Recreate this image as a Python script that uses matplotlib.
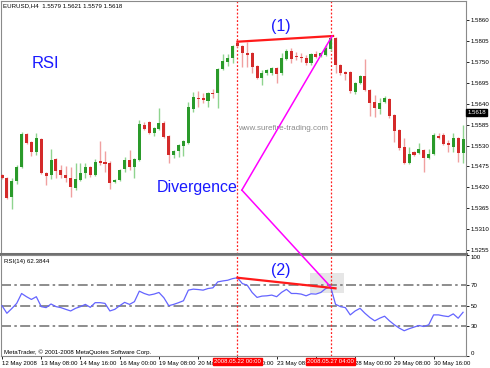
import matplotlib
matplotlib.use("Agg")
import matplotlib.pyplot as plt
from matplotlib.patches import ConnectionPatch, Rectangle
import matplotlib.transforms as mtransforms
import numpy as np

plt.rcParams['font.family'] = ['Liberation Sans', 'DejaVu Sans']

# EURUSD H4 candles, 12 May 2008 00:00 onwards
opens = [1.5453, 1.5445, 1.5395, 1.5437, 1.5474, 1.5561, 1.5540, 1.5513, 1.5547, 1.5458,
         1.5453, 1.5495, 1.5466, 1.5453, 1.5445, 1.5419, 1.5440, 1.5458, 1.5474, 1.5453,
         1.5489, 1.5487, 1.5484, 1.5434, 1.5440, 1.5468, 1.5492, 1.5474, 1.5492, 1.5584,
         1.5592, 1.5563, 1.5574, 1.5589, 1.5555, 1.5505, 1.5516, 1.5529, 1.5537, 1.5626,
         1.5655, 1.5655, 1.5647, 1.5668, 1.5668, 1.5732, 1.5750, 1.5760, 1.5800, 1.5792,
         1.5774, 1.5774, 1.5739, 1.5708, 1.5721, 1.5721, 1.5734, 1.5721, 1.5758, 1.5779,
         1.5766, 1.5763, 1.5760, 1.5747, 1.5771, 1.5766, 1.5768, 1.5784, 1.5813, 1.5742,
         1.5724, 1.5724, 1.5671, 1.5695, 1.5713, 1.5676, 1.5645, 1.5626, 1.5645, 1.5653,
         1.5611, 1.5571, 1.5526, 1.5484, 1.5513, 1.5511, 1.5518, 1.5497, 1.5508, 1.5555,
         1.5558, 1.5537, 1.5526, 1.5550, 1.5511]
highs = [1.5455, 1.5448, 1.5445, 1.5479, 1.5566, 1.5563, 1.5542, 1.5563, 1.5550, 1.5461,
         1.5521, 1.5497, 1.5479, 1.5476, 1.5474, 1.5484, 1.5484, 1.5484, 1.5476, 1.5495,
         1.5542, 1.5516, 1.5489, 1.5442, 1.5468, 1.5500, 1.5518, 1.5497, 1.5597, 1.5592,
         1.5595, 1.5579, 1.5629, 1.5595, 1.5558, 1.5518, 1.5534, 1.5545, 1.5645, 1.5671,
         1.5674, 1.5668, 1.5671, 1.5679, 1.5734, 1.5771, 1.5771, 1.5795, 1.5803, 1.5795,
         1.5803, 1.5776, 1.5742, 1.5729, 1.5732, 1.5737, 1.5737, 1.5774, 1.5784, 1.5787,
         1.5776, 1.5774, 1.5768, 1.5774, 1.5779, 1.5776, 1.5795, 1.5818, 1.5816, 1.5745,
         1.5726, 1.5726, 1.5697, 1.5716, 1.5758, 1.5679, 1.5663, 1.5655, 1.5661, 1.5655,
         1.5613, 1.5574, 1.5550, 1.5526, 1.5516, 1.5537, 1.5521, 1.5521, 1.5563, 1.5563,
         1.5563, 1.5545, 1.5563, 1.5553, 1.5584]
lows = [1.5442, 1.5390, 1.5363, 1.5429, 1.5471, 1.5534, 1.5503, 1.5505, 1.5455, 1.5426,
        1.5442, 1.5445, 1.5445, 1.5434, 1.5395, 1.5413, 1.5437, 1.5445, 1.5448, 1.5450,
        1.5479, 1.5461, 1.5416, 1.5432, 1.5437, 1.5461, 1.5466, 1.5445, 1.5489, 1.5571,
        1.5561, 1.5555, 1.5571, 1.5550, 1.5484, 1.5497, 1.5500, 1.5503, 1.5534, 1.5618,
        1.5632, 1.5642, 1.5632, 1.5655, 1.5629, 1.5729, 1.5739, 1.5747, 1.5789, 1.5737,
        1.5737, 1.5721, 1.5705, 1.5689, 1.5716, 1.5716, 1.5695, 1.5716, 1.5755, 1.5747,
        1.5755, 1.5750, 1.5742, 1.5742, 1.5760, 1.5763, 1.5766, 1.5779, 1.5721, 1.5716,
        1.5703, 1.5668, 1.5666, 1.5692, 1.5674, 1.5608, 1.5605, 1.5613, 1.5642, 1.5603,
        1.5540, 1.5518, 1.5482, 1.5482, 1.5503, 1.5508, 1.5461, 1.5495, 1.5505, 1.5547,
        1.5532, 1.5513, 1.5513, 1.5487, 1.5484]
closes = [1.5445, 1.5392, 1.5437, 1.5474, 1.5561, 1.5537, 1.5513, 1.5550, 1.5458, 1.5450,
          1.5492, 1.5463, 1.5453, 1.5445, 1.5421, 1.5442, 1.5458, 1.5474, 1.5453, 1.5487,
          1.5484, 1.5482, 1.5432, 1.5440, 1.5466, 1.5492, 1.5474, 1.5495, 1.5587, 1.5574,
          1.5563, 1.5576, 1.5589, 1.5553, 1.5505, 1.5516, 1.5532, 1.5542, 1.5632, 1.5658,
          1.5653, 1.5650, 1.5668, 1.5666, 1.5732, 1.5753, 1.5760, 1.5792, 1.5792, 1.5774,
          1.5768, 1.5737, 1.5708, 1.5721, 1.5729, 1.5734, 1.5718, 1.5760, 1.5779, 1.5758,
          1.5763, 1.5760, 1.5747, 1.5771, 1.5763, 1.5774, 1.5787, 1.5813, 1.5742, 1.5721,
          1.5718, 1.5674, 1.5695, 1.5713, 1.5676, 1.5642, 1.5629, 1.5642, 1.5655, 1.5608,
          1.5568, 1.5524, 1.5484, 1.5508, 1.5505, 1.5521, 1.5497, 1.5508, 1.5558, 1.5550,
          1.5534, 1.5532, 1.5550, 1.5511, 1.5547]

rsi = [49.8, 42.3, 47.0, 52.1, 61.9, 58.7, 56.0, 58.7, 48.9, 47.9,
       51.5, 48.9, 47.9, 46.2, 44.6, 47.2, 48.9, 51.1, 48.2, 52.8,
       52.8, 52.1, 44.6, 46.2, 49.8, 53.1, 51.1, 53.8, 64.2, 61.9,
       60.3, 61.3, 62.9, 57.7, 49.8, 51.1, 52.8, 54.7, 65.2, 66.2,
       65.8, 65.2, 66.8, 67.5, 73.4, 74.3, 75.0, 76.6, 77.5, 71.7,
       70.1, 62.9, 58.0, 59.3, 59.6, 60.3, 58.7, 63.0, 66.0, 61.9,
       61.9, 61.3, 59.6, 61.6, 61.3, 62.9, 66.8, 68.5, 51.2, 48.9,
       47.9, 40.7, 44.6, 47.2, 42.3, 38.1, 34.8, 37.4, 39.4, 34.8,
       30.9, 27.6, 25.0, 27.0, 28.6, 30.2, 29.2, 30.9, 40.7, 40.7,
       39.7, 39.0, 41.7, 37.4, 43.3]

price_ticks = [1.5860, 1.5805, 1.5750, 1.5695, 1.5640, 1.5585, 1.5530, 1.5475,
               1.5420, 1.5365, 1.5310, 1.5255]
rsi_ticks = [0, 30, 50, 70, 100]
time_ticks = [0, 8, 16, 24, 32, 40, 48, 56, 64, 72, 80, 88]
time_labels = ["12 May 2008", "13 May 08:00", "14 May 16:00", "16 May 00:00",
               "19 May 08:00", "20 May 16:00", "22 May 00:00", "23 May 08:00",
               "26 May 16:00", "28 May 00:00", "29 May 08:00", "30 May 16:00"]
div_bars = [48, 67]
div_dates = ["2008.05.22 00:00", "2008.05.27 04:00"]
header = "EURUSD,H4  1.5579 1.5621 1.5579 1.5618"
last_price = 1.5618

W, H = 490, 368
fig = plt.figure(figsize=(W / 100, H / 100), dpi=100)
ax1 = fig.add_axes([1 / W, 1 - 254 / H, 465 / W, 253 / H])
ax2 = fig.add_axes([1 / W, 1 - 356 / H, 465 / W, 101 / H])

x = np.arange(len(opens))
o = np.array(opens); c = np.array(closes)
hi = np.array(highs); lo = np.array(lows)
up = c >= o

# candles
ax1.vlines(x[up], lo[up], hi[up], color="#8fd48f", lw=1, zorder=2)
ax1.vlines(x[~up], lo[~up], hi[~up], color="#f0a0a0", lw=1, zorder=2)
body = np.maximum(np.abs(c - o), 0.00008)
ax1.bar(x[up], body[up], bottom=np.minimum(o, c)[up], width=0.62,
        color="#2a9a2a", lw=0, zorder=3)
ax1.bar(x[~up], body[~up], bottom=np.minimum(o, c)[~up], width=0.62,
        color="#d42a2a", lw=0, zorder=3)

ax1.set_xlim(-0.2, 94.6)
ax1.set_ylim(1.5245, 1.5910)
ax2.set_xlim(-0.2, 94.6)
ax2.set_ylim(0, 100)

# RSI panel
ax2.plot(x, rsi, color="#6464ff", lw=0.9, zorder=3)
for lev in [30, 50, 70]:
    ax2.axhline(lev, color="#7a7a7a", lw=1.2, dashes=(6, 2, 1.5, 2), zorder=1)
ax2.add_patch(Rectangle((62.7, 62.5), 7.0, 19.5, color="#e6e6e6", lw=0, zorder=0))

# vertical markers
for ax in (ax1, ax2):
    for b in div_bars:
        ax.axvline(b, color="#ff2020", lw=0.9, ls=(0, (1.5, 1.5)), zorder=1)

# trendlines
ax1.plot([div_bars[0], div_bars[1] + 0.5], [highs[div_bars[0]], highs[div_bars[1]]],
         color="#ff1a1a", lw=1.6, zorder=5)
ax2.plot([div_bars[0], div_bars[1] + 1.0], [rsi[div_bars[0]], rsi[div_bars[1]] - 1.5],
         color="#ff1a1a", lw=1.6, zorder=5)

# divergence arrows
dv = (48.9, 1.5413)
ax1.plot([dv[0], div_bars[1] + 0.3], [dv[1], highs[div_bars[1]]], color="#ff00ff", lw=1.1, zorder=6)
con = ConnectionPatch(xyA=dv, coordsA=ax1.transData,
                      xyB=(div_bars[1], rsi[div_bars[1]]), coordsB=ax2.transData,
                      color="#ff00ff", lw=1.1, zorder=6)
fig.add_artist(con)

# annotations
ax1.text(8.8, 1.5747, "RSI", color="#1a1aff", fontsize=12, ha="center", va="center")
ax1.text(48.0, 1.5419, "Divergence", color="#1a1aff", fontsize=11.5, ha="right", va="center")
ax1.text(56.9, 1.5842, "(1)", color="#1a1aff", fontsize=11.5, ha="center", va="center")
ax2.text(56.9, 84.8, "(2)", color="#1a1aff", fontsize=11.5, ha="center", va="center")
ax1.text(57.3, 1.5574, "www.surefire-trading.com", color="#8c8c8c", fontsize=5.8,
         ha="center", va="center")
fig.text(3 / W, 1 - 6 / H, header, fontsize=4.4, va="center", ha="left")
ax2.text(0.006, 0.94, "RSI(14) 62.3844", transform=ax2.transAxes, fontsize=4.4,
         va="center", ha="left")
ax2.text(0.006, 0.04, "MetaTrader, \u00a9 2001-2008 MetaQuotes Software Corp.",
         transform=ax2.transAxes, fontsize=4.4, va="center", ha="left")

# axes styling
for ax in (ax1, ax2):
    ax.yaxis.tick_right()
    ax.tick_params(axis="y", length=2, width=0.6, pad=1.2, labelsize=4.4, colors="black")
    for s in ax.spines.values():
        s.set_color("#8a8a8a")
        s.set_linewidth(0.8)
ax1.spines["bottom"].set_color("#707070")
ax1.spines["bottom"].set_linewidth(2.2)
ax1.set_yticks(price_ticks)
ax1.set_yticklabels([f"{t:.4f}" for t in price_ticks])
ax1.set_xticks([])

ax2.set_yticks(rsi_ticks)
ylabs = ax2.set_yticklabels([str(t) for t in rsi_ticks])
ylabs[0].set_va("bottom")
ylabs[-1].set_va("top")
ax2.set_xticks(time_ticks)
ax2.set_xticklabels(time_labels, ha="left", fontsize=4.3)
ax2.tick_params(axis="x", length=2, width=0.6, pad=1.5)

# current price marker
ax1.text(1.003, last_price, f"{last_price:.4f}",
         transform=mtransforms.blended_transform_factory(ax1.transAxes, ax1.transData),
         fontsize=4.4, color="white", va="center", ha="left", zorder=10, clip_on=False,
         bbox=dict(boxstyle="square,pad=0.15", fc="black", ec="black"))

# date boxes on the time axis
tr = mtransforms.blended_transform_factory(ax2.transData, ax2.transAxes)
for b, lab in zip(div_bars, div_dates):
    ax2.text(b, -0.055, lab, transform=tr, fontsize=4.3, color="white", ha="center",
             va="center", zorder=10, clip_on=False,
             bbox=dict(boxstyle="square,pad=0.2", fc="#ff0000", ec="#ff0000"))

fig.savefig("out.png", dpi=100)
